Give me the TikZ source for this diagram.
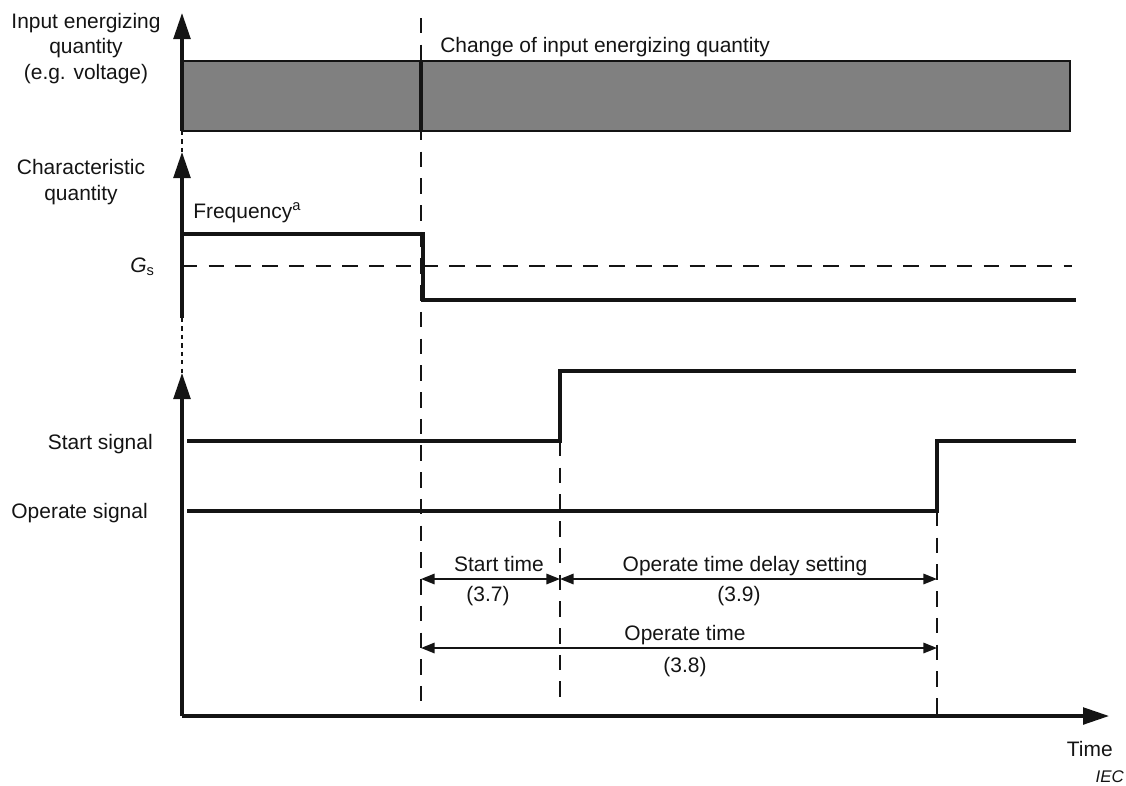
\documentclass[tikz,border=0pt]{standalone}
\usepackage{fontspec}
\setmainfont{Liberation Sans}
\usetikzlibrary{arrows.meta,positioning}
\definecolor{Bar}{HTML}{808080}
\definecolor{Ink}{HTML}{141414}

\begin{document}
\begin{tikzpicture}[x=0.025cm,y=-0.025cm,
  font=\fontsize{14.9}{18.1}\selectfont,
  every node/.append style={inner sep=0pt,Ink},
  axis/.style={Ink,line width=2.2pt,-{Triangle[length=0.65cm,width=0.42cm]}},
  wave/.style={Ink,line width=2.3pt},
  guide/.style={Ink,line width=1pt,dash pattern=on 11pt off 8pt},
  span/.style={Ink,line width=1.4pt,
    {Triangle[length=0.34cm,width=0.26cm]}-{Triangle[length=0.34cm,width=0.26cm]}},
  gap/.style={Ink,line width=1.2pt,dash pattern=on 3pt off 3pt}]
\useasboundingbox (0,0) rectangle (1126,785);

% Broken vertical axis and time axis.
\coordinate (barlow) at (182,131);
\coordinate (bartip) at (182,13);
\coordinate (qlow) at (182,318);
\coordinate (qtip) at (182,152);
\coordinate (stip) at (182,373);
\coordinate (origin) at (182,716);
\coordinate (tend) at (1109,716);

% Input energizing quantity.
\draw[Ink,line width=1.1pt,fill=Bar] (barlow) rectangle (1070,61);
\draw[axis] (barlow) -- (bartip);
\draw[gap] (barlow) -- (qtip);
\draw[axis] (qlow) -- (qtip);
\draw[gap] (qlow) -- (stip);
\draw[axis] (origin) -- (stip);
\draw[axis] (origin) -- (tend);

% Instants: change, start, operate.
\coordinate (chg) at (421,18);
\coordinate (chgend) at (421,705);
\coordinate (stt) at (560,441);
\coordinate (sttend) at (560,705);
\coordinate (opr) at (937,511);
\coordinate (oprend) at (937,716);
\draw[guide] (chg) -- (chgend);
\draw[guide] (stt) -- (sttend);
\draw[guide] (opr) -- (oprend);
\draw[Ink,line width=3.5pt] (421,61) -- (421,131);

% Characteristic quantity and signals.
\draw[wave] (182,234) -| (423,300) -- (1076,300);
\draw[guide] (182,266) -- (1072,266);
\draw[wave] (187,441) -- (stt) |- (1076,371);
\draw[wave] (187,511) -- (opr) |- (1076,441);

% Timing spans.
\coordinate (rowa) at (0,579);
\coordinate (rowb) at (0,648);
\draw[span] (chg |- rowa) -- (stt |- rowa);
\draw[span] (stt |- rowa) -- (opr |- rowa);
\draw[span] (chg |- rowb) -- (opr |- rowb);

% Labels.
\node[anchor=base,align=center] (inlab) at (86,79)
  {Input energizing\\quantity\\(e.g. voltage)};
\node[anchor=base,align=center] (charlab) at (81,200)
  {Characteristic\\quantity};
\node[anchor=base west] (chglab) at (440,52) {Change of input energizing quantity};
\node[anchor=base west] (freq) at (193,218) {Frequency\textsuperscript{a}};
\node[anchor=base east] (gs) at (155,272) {\itshape G\textsubscript{\upshape s}};
\node[anchor=base east] (startlab) at (153,449) {Start signal};
\node[anchor=base east] (oplab) at (148,518) {Operate signal};
\node[anchor=base] (sttime) at (499,571) {Start time};
\node[anchor=base] (sttref) at (488,601) {(3.7)};
\node[anchor=base] (delay) at (745,571) {Operate time delay setting};
\node[anchor=base] (delayref) at (739,601) {(3.9)};
\node[anchor=base] (optime) at (685,640) {Operate time};
\node[anchor=base] (opref) at (685,672) {(3.8)};
\node[anchor=base east] (timelab) at (1113,756) {Time};
\node[anchor=base east,font=\itshape\fontsize{12}{14}\selectfont] (iec) at (1124,782) {IEC};
\end{tikzpicture}
\end{document}
